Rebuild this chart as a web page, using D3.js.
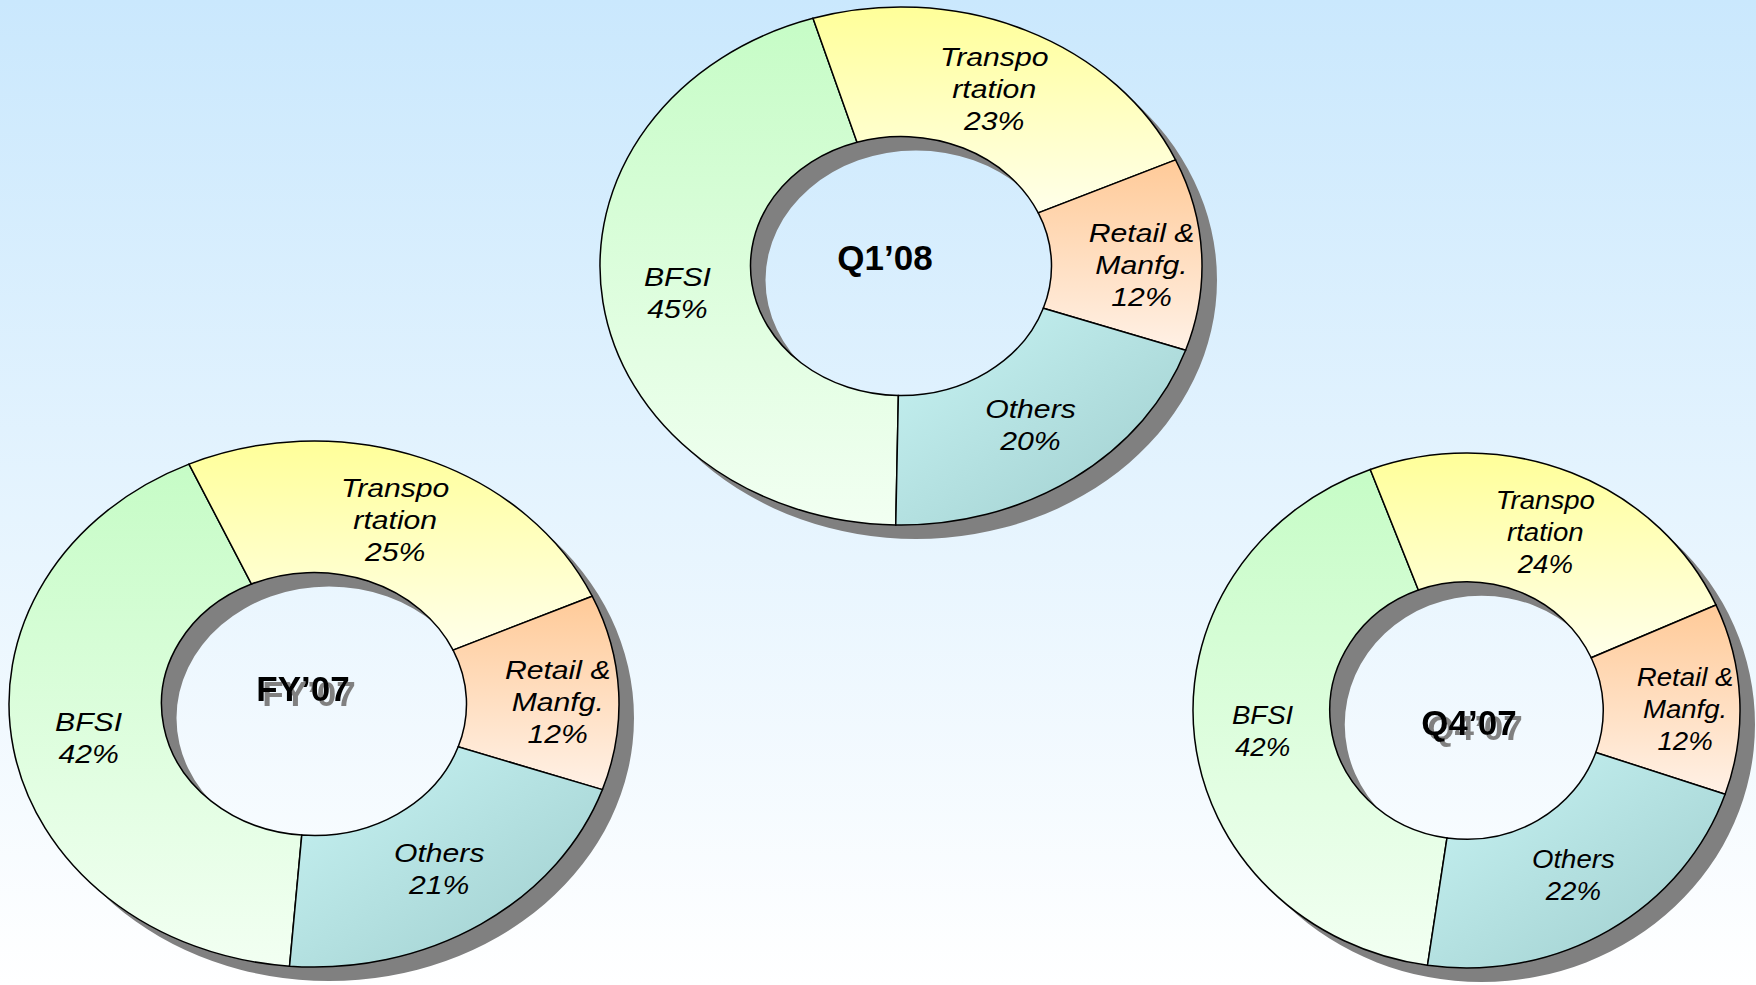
<!DOCTYPE html>
<html><head><meta charset="utf-8">
<script src="https://cdn.jsdelivr.net/npm/d3@7"></script>
<style>html,body{margin:0;padding:0;overflow:hidden;background:#fff}</style>
</head><body>
<svg id="c" width="1756" height="985"></svg>
<script>
// ---- data ----
const categories = ["BFSI", "Transportation", "Retail & Manfg.", "Others"];
const labelLines = [["BFSI"], ["Transpo", "rtation"], ["Retail &", "Manfg."], ["Others"]];
const periods = ["Q1\u201908", "FY\u201907", "Q4\u201907"];
const q108Values = [45, 23, 12, 20];
const fy07Values = [42, 25, 12, 21];
const q407Values = [42, 24, 12, 22];
const seriesValues = [q108Values, fy07Values, q407Values];

// ---- style / layout ----
const W = 1756, H = 985;
const holeRatio = 0.5;
const anchorDeg = 109;            // where "Others" begins (clockwise from 12 o'clock)
const shadowDx = 15, shadowDy = 14;
const labelRadius = [0.75, 0.75, 0.8, 0.75];
const labelDy = [0, 0, 8, 0];
const layout = [
  {cx: 901,   cy: 266,   r: 259,   sx: 301 / 259,     tx: 885,  ty: 270, titleShadow: false},
  {cx: 314,   cy: 704,   r: 263,   sx: 305 / 263,     tx: 303,  ty: 701, titleShadow: true},
  {cx: 1466.5, cy: 710.5, r: 257.5, sx: 273.5 / 257.5, tx: 1469, ty: 735, titleShadow: true}
];
const sliceGradients = [
  {x2: 0, y2: 1, stops: ["#c6fcc6", "#f2fff2"]},
  {x2: 0, y2: 1, stops: ["#ffff99", "#ffffea"]},
  {x2: 0, y2: 1, stops: ["#ffca98", "#fff1e6"]},
  {x2: 1, y2: 1, stops: ["#c8f4f4", "#9fcdcd"]}
];
const labelFont = "'Liberation Sans', Arial, sans-serif";

const svg = d3.select("#c");
const defs = svg.append("defs");

const bg = defs.append("linearGradient").attr("id", "bg")
  .attr("x1", 0).attr("y1", 0).attr("x2", 0).attr("y2", 1);
bg.append("stop").attr("offset", 0).attr("stop-color", "#cae8fd");
bg.append("stop").attr("offset", 1).attr("stop-color", "#ffffff");

sliceGradients.forEach((gd, i) => {
  const lg = defs.append("linearGradient").attr("id", "sg" + i)
    .attr("x1", 0).attr("y1", 0).attr("x2", gd.x2).attr("y2", gd.y2);
  lg.append("stop").attr("offset", 0).attr("stop-color", gd.stops[0]);
  lg.append("stop").attr("offset", 1).attr("stop-color", gd.stops[1]);
});

// text drop shadow for period titles
const f = defs.append("filter").attr("id", "tshadow")
  .attr("x", "-20%").attr("y", "-30%").attr("width", "140%").attr("height", "160%");
f.append("feOffset").attr("in", "SourceAlpha").attr("dx", 6).attr("dy", 5).attr("result", "off");
f.append("feFlood").attr("flood-color", "#808080").attr("result", "col");
f.append("feComposite").attr("in", "col").attr("in2", "off").attr("operator", "in").attr("result", "sh");
const fm = f.append("feMerge");
fm.append("feMergeNode").attr("in", "sh");
fm.append("feMergeNode").attr("in", "SourceGraphic");

svg.append("rect").attr("width", W).attr("height", H).attr("fill", "url(#bg)");

const TAU = Math.PI * 2;
const anchor = anchorDeg * Math.PI / 180;

seriesValues.forEach((vals, ci) => {
  const L = layout[ci];
  const total = d3.sum(vals);
  const start = anchor + (vals[3] / total) * TAU;
  const pie = d3.pie().sort(null).value(d => d).startAngle(start).endAngle(start + TAU);
  const arcs = pie(vals);
  const arc = d3.arc().innerRadius(L.r * holeRatio).outerRadius(L.r);

  const g = svg.append("g").attr("transform", `translate(${L.cx},${L.cy})`);

  // drop shadow ring
  g.append("g").attr("transform", `translate(${shadowDx},${shadowDy}) scale(${L.sx},1)`)
    .append("path")
    .attr("d", arc({startAngle: 0, endAngle: TAU}))
    .attr("fill", "#808080");

  const s = g.append("g").attr("transform", `scale(${L.sx},1)`);
  s.selectAll("path.slice").data(arcs).join("path")
    .attr("class", "slice")
    .attr("d", arc)
    .attr("fill", (d, j) => `url(#sg${j})`)
    .attr("stroke", "#000")
    .attr("stroke-width", 1.5)
    .attr("vector-effect", "non-scaling-stroke");

  const lh = 32;
  s.selectAll("text.lbl").data(arcs).join("text")
    .attr("class", "lbl")
    .attr("font-family", labelFont)
    .attr("font-style", "italic")
    .attr("font-size", 26)
    .attr("fill", "#000")
    .attr("text-anchor", "middle")
    .each(function(d, j) {
      const rr = L.r * labelRadius[j];
      const [x, y] = d3.arc().innerRadius(rr).outerRadius(rr).centroid(d);
      const lines = labelLines[j].concat([d.data + "%"]);
      const y0 = y + labelDy[j] - (lines.length - 1) * lh / 2 + 9;
      const t = d3.select(this);
      lines.forEach((ln, k) => {
        t.append("tspan").attr("x", x).attr("y", y0 + k * lh).text(ln);
      });
    });

  // period title
  svg.append("text")
    .attr("x", L.tx).attr("y", L.ty)
    .attr("text-anchor", "middle")
    .attr("font-family", labelFont).attr("font-weight", "bold").attr("font-size", 35)
    .attr("fill", "#000")
    .attr("filter", L.titleShadow ? "url(#tshadow)" : null)
    .text(periods[ci]);
});
</script>
</body></html>
